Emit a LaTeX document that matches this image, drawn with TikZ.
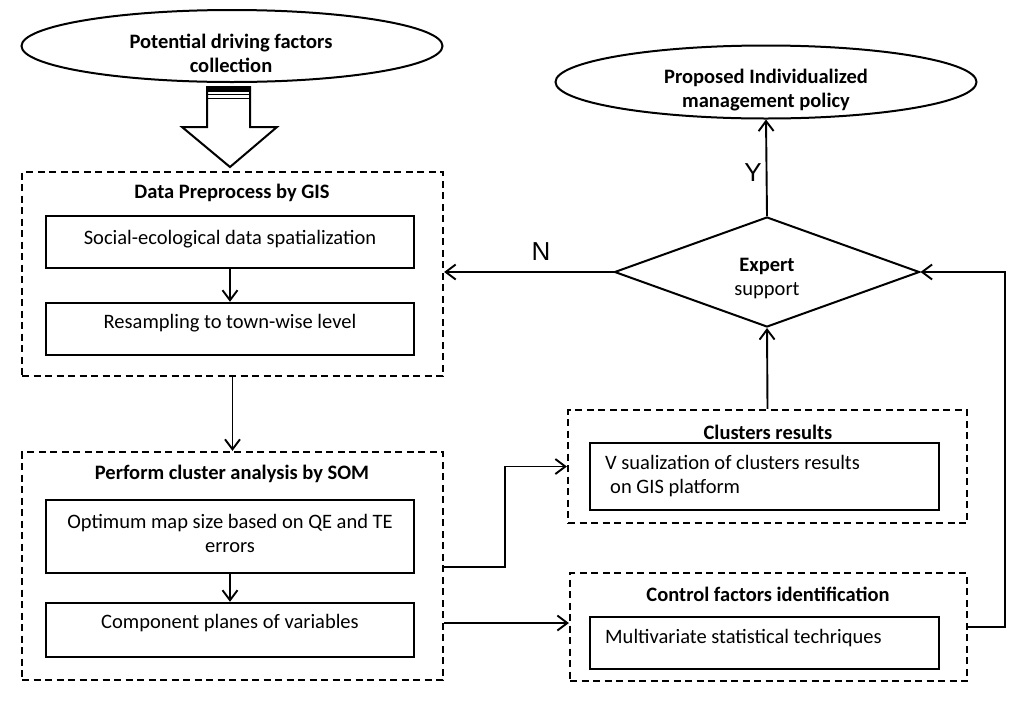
\documentclass[tikz,border=0pt]{standalone}
\usepackage{fontspec}
\setmainfont{Carlito}
\newfontfamily\arialf{Liberation Sans}
\usetikzlibrary{shapes.geometric,arrows.meta,calc}
\begin{document}
\begin{tikzpicture}[x=1pt,y=-1pt,
  dashbox/.style={draw, line width=2.2pt, dash pattern=on 7pt off 4.5pt, inner sep=0pt},
  solidbox/.style={draw, line width=2.4pt, inner sep=0pt},
  ell/.style={draw, ellipse, line width=2pt, inner sep=0pt},
  txt/.style={font=\fontsize{20.5}{24}\selectfont, align=center, inner sep=0pt},
  ttl/.style={font=\fontsize{20.5}{24}\selectfont\bfseries, align=center, inner sep=0pt},
  arr/.style={-{Straight Barb[length=10pt,width=15pt,line width=1.9pt]}, line width=1.9pt},
  lab/.style={font=\arialf\fontsize{26}{28}\selectfont, inner sep=0pt}]
\fill[white] (0,0) rectangle (1024,702);
\useasboundingbox (0,0) rectangle (1024,702);

% top-left ellipse
\node[ell, minimum width=421pt, minimum height=72pt] (e1) at (232,46) {};
\node[ttl] (e1t) at (231,53) {Potential driving factors\\collection};

% block arrow
\fill (207,86) rectangle (250,92);
\draw[line width=1.6pt] (207,94.5) -- (250,94.5);
\draw[line width=1.6pt] (207,98.5) -- (250,98.5);
\draw[line width=2pt] (207,86) -- (207,127) -- (182,127) -- (230,167) -- (277,127) -- (250,127) -- (250,86);

% Data preprocess
\node[dashbox, minimum width=421pt, minimum height=204pt] (boxA) at (232.5,274) {};
\node[ttl] (tA) at (232,193) {Data Preprocess by GIS};
\node[solidbox, minimum width=368pt, minimum height=52pt] (A1) at (230,242) {};
\node[txt] (A1t) at (230,239) {Social-ecological data spatialization};
\node[solidbox, minimum width=368pt, minimum height=52pt] (A2) at (230,329) {};
\node[txt] (A2t) at (230,323) {Resampling to town-wise level};

% SOM
\node[dashbox, minimum width=421pt, minimum height=228pt] (boxB) at (232.5,566) {};
\node[ttl] (tB) at (232,474) {Perform cluster analysis by SOM};
\node[solidbox, minimum width=368pt, minimum height=73pt] (B1) at (230,536.5) {};
\node[txt] (B1t) at (230,533) {Optimum map size based on QE and TE\\errors};
\node[solidbox, minimum width=368pt, minimum height=54pt] (B2) at (230,630) {};
\node[txt] (B2t) at (230,623) {Component planes of variables};

% Clusters
\node[dashbox, minimum width=399pt, minimum height=113pt] (clus) at (767.5,466.5) {};
\node[ttl] (tC) at (768,432) {Clusters results};
\node[solidbox, minimum width=349pt, minimum height=67pt] (C1) at (764.5,476.5) {};
\node[txt, align=left, anchor=west] (C1t) at (605,476) {V sualization of clusters results\\\hspace{5pt}on GIS platform};

% Control
\node[dashbox, minimum width=397pt, minimum height=108pt] (ctrl) at (768.5,627) {};
\node[ttl] (tD) at (768,594) {Control factors identification};
\node[solidbox, minimum width=349pt, minimum height=52pt] (D1) at (764.5,643) {};
\node[txt, anchor=west] (D1t) at (605,638) {Multivariate statistical techriques};

% diamond
\node[draw, diamond, line width=2pt, minimum width=305pt, minimum height=110pt, aspect=2.77, inner sep=0pt] (dia) at (767,272) {};
\node[txt] (diat) at (767,278) {\textbf{Expert}\\support};

% top-right ellipse
\node[ell, minimum width=421pt, minimum height=73pt] (e2) at (766,82) {};
\node[ttl] (e2t) at (766,90) {Proposed Individualized\\management policy};

% connectors
\draw[arr] (A1.south) -- (A2.north);
\draw[arr] (boxA.south) -- (boxB.north);
\draw[arr] (B1.south) -- (B2.north);
\draw[arr] (boxB.east |- 0,567) -- (505,567) |- (clus.west);
\draw[arr] (boxB.east |- 0,623) -- (ctrl.west |- 0,623);
\draw[arr] (ctrl.east) -- (1005,627) |- (dia.east);
\draw[arr] (clus.north) -- (dia.south);
\draw[arr] (dia.north) -- (e2.south);
\draw[arr] (dia.west) -- (dia.west -| boxA.east);

\node[lab] (N) at (541,252) {N};
\node[lab] (Y) at (753,173) {Y};
\end{tikzpicture}
\end{document}
